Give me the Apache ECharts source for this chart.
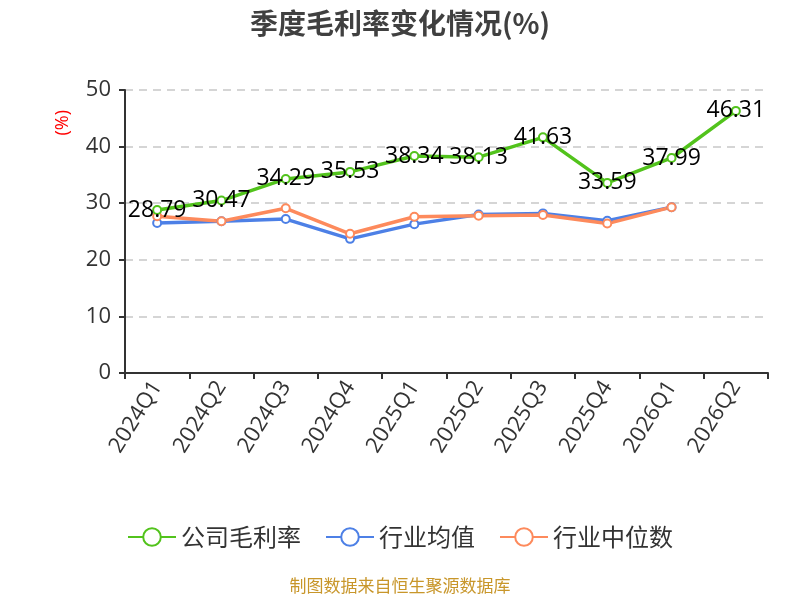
<!DOCTYPE html>
<html>
<head>
<meta charset="utf-8">
<script src="https://cdn.jsdelivr.net/npm/echarts@6/dist/echarts.min.js"></script>
<style>
    html, body { margin: 0; padding: 0; background: #fff; }
    #chart { width: 800px; height: 600px; }
</style>
</head>
<body>
<div id="chart"></div>
<script>
const quarters = ['2024Q1', '2024Q2', '2024Q3', '2024Q4', '2025Q1', '2025Q2', '2025Q3', '2025Q4', '2026Q1', '2026Q2'];
const companyMargin = [28.79, 30.47, 34.29, 35.53, 38.34, 38.13, 41.63, 33.59, 37.99, 46.31];
const industryMean = [26.5, 26.8, 27.2, 23.7, 26.3, 28.0, 28.2, 26.9, 29.3, null];
const industryMedian = [27.7, 26.8, 29.1, 24.6, 27.6, 27.8, 27.9, 26.4, 29.3, null];
const yTicks = [0, 10, 20, 30, 40, 50];

const chart = echarts.init(document.getElementById('chart'));

function lineSeries(name, data, color, showLabel) {
    return {
        name: name,
        type: 'line',
        data: data,
        symbol: 'emptyCircle',
        symbolSize: 8,
        lineStyle: { width: 3.5, color: color },
        itemStyle: { color: color, borderWidth: 2 },
        label: {
            show: showLabel,
            position: 'inside',
            color: '#000',
            fontSize: 23,
            fontFamily: 'Open Sans'
        },
        z: showLabel ? 3 : 2
    };
}

const option = {
    title: {
        text: '季度毛利率变化情况(%)',
        left: 'center',
        top: 4,
        textStyle: { fontSize: 28, fontWeight: 'bold', color: '#404040', fontFamily: 'Noto Sans CJK SC' }
    },
    grid: { left: 125, right: 32, top: 90, bottom: 227 },
    legend: {
        bottom: 46,
        itemWidth: 48,
        itemHeight: 22,
        itemGap: 24,
        textStyle: { fontSize: 24, color: '#333', fontFamily: 'Noto Sans CJK SC' },
        data: ['公司毛利率', '行业均值', '行业中位数']
    },
    graphic: [
        {
            type: 'text',
            left: 54,
            top: 110,
            rotation: Math.PI / 2,
            style: { text: '(%)', fill: '#ff0000', fontSize: 18, fontFamily: 'Open Sans' }
        },
        {
            type: 'text',
            left: 'center',
            top: 577,
            style: { text: '制图数据来自恒生聚源数据库', fill: '#c8962a', fontSize: 17, fontFamily: 'Noto Sans CJK SC' }
        }
    ],
    xAxis: {
        type: 'category',
        data: quarters,
        boundaryGap: true,
        axisLine: { lineStyle: { color: '#333', width: 2 } },
        axisTick: { show: true, length: 6, lineStyle: { width: 2 } },
        axisLabel: { rotate: 58, fontSize: 22, color: '#333', margin: 10, fontFamily: 'Open Sans' }
    },
    yAxis: {
        type: 'value',
        min: yTicks[0],
        max: yTicks[yTicks.length - 1],
        interval: 10,
        axisLine: { show: true, lineStyle: { color: '#333', width: 2 } },
        axisTick: { show: true, length: 6, lineStyle: { width: 2 } },
        axisLabel: { fontSize: 22, color: '#333', margin: 14, fontFamily: 'Open Sans' },
        splitLine: { lineStyle: { type: [8, 6], color: '#c8c8c8', width: 1.5 } }
    },
    series: [
        lineSeries('公司毛利率', companyMargin, '#52c31c', true),
        lineSeries('行业均值', industryMean, '#4d80e6', false),
        lineSeries('行业中位数', industryMedian, '#fd8a5c', false)
    ]
};

chart.setOption(option);
</script>
</body>
</html>
